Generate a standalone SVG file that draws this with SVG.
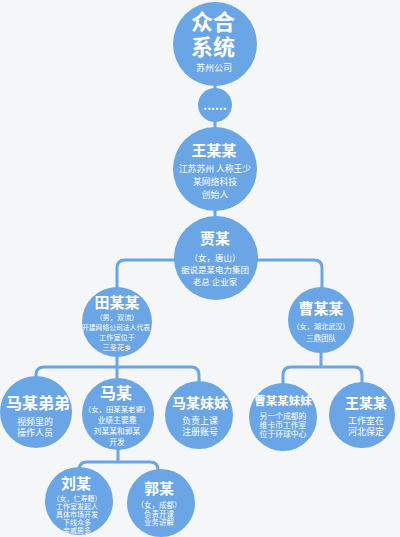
<svg xmlns="http://www.w3.org/2000/svg" width="400" height="537" viewBox="0 0 400 537">
<defs>
<style>
.bg{fill:#f4f6f8}
.c{fill:#6aa5e6}
.ln{fill:none;stroke:#6aa5e6;stroke-width:3}
text{font-family:"Noto Sans CJK SC","Noto Sans",sans-serif;fill:#ffffff;text-anchor:middle;dominant-baseline:central}
.t{font-weight:700}
</style>
</defs>
<rect class="bg" x="0" y="0" width="400" height="537"/>
<g id="connectors">
<path class="ln" d="M215,44 V258"/>
<path class="ln" d="M117,300 V268 Q117,260 125,260 H314 Q322,260 322,268 V300"/>
<path class="ln" d="M117,340 V367 M36,390 V375 Q36,367 44,367 H191 Q199,367 199,375 V390 M117,367 V390"/>
<path class="ln" d="M321,340 V367 M283,390 V375 Q283,367 291,367 H354 Q362,367 362,375 V390"/>
<path class="ln" d="M118,440 V462 M79,485 V470 Q79,462 87,462 H150 Q158,462 158,470 V485"/>
</g>
<g id="n-zhonghe">
<circle class="c" cx="215" cy="44" r="42"/>
<text class="t" x="213" y="20" font-size="22">众合</text>
<text class="t" x="213" y="45" font-size="22">系统</text>
<text x="214" y="67" font-size="9">苏州公司</text>
</g>
<g id="n-dots">
<circle class="c" cx="215" cy="105" r="17"/>
<text class="t" x="215" y="104" font-size="12">......</text>
</g>
<g id="n-wang1">
<circle class="c" cx="215" cy="169" r="42"/>
<text class="t" x="214" y="149" font-size="15">王某某</text>
<text x="215" y="168" font-size="8.8">江苏苏州 人称王少</text>
<text x="215" y="181" font-size="8.8">某网络科技</text>
<text x="215" y="194" font-size="8.8">创始人</text>
</g>
<g id="n-jia">
<circle class="c" cx="216" cy="258" r="42"/>
<text class="t" x="215" y="237" font-size="15">贾某</text>
<text x="215" y="257" font-size="8.5">（女，唐山）</text>
<text x="215" y="269" font-size="8.5">据说是某电力集团</text>
<text x="215" y="281" font-size="8.5">老总 企业家</text>
</g>
<g id="n-tian">
<circle class="c" cx="117" cy="322" r="35"/>
<text class="t" x="117" y="301" font-size="15">田某某</text>
<text x="117" y="317" font-size="7.2">（男，双流）</text>
<text x="116" y="327" font-size="6.8">开建网络公司法人代表</text>
<text x="117" y="337" font-size="7.2">工作室位于</text>
<text x="117" y="347" font-size="7.2">三圣花乡</text>
</g>
<g id="n-cao">
<circle class="c" cx="321" cy="320" r="33"/>
<text class="t" x="321" y="307" font-size="15">曹某某</text>
<text x="321" y="326" font-size="7.2">（女，湖北武汉）</text>
<text x="321" y="337" font-size="7.5">三鼎团队</text>
</g>
<g id="n-madidi">
<circle class="c" cx="36" cy="412" r="36"/>
<text class="t" x="38" y="402" font-size="16">马某弟弟</text>
<text x="35" y="421" font-size="9">视频里的</text>
<text x="35" y="432" font-size="9">操作人员</text>
</g>
<g id="n-ma">
<circle class="c" cx="118" cy="414" r="36"/>
<text class="t" x="116" y="392" font-size="16">马某</text>
<text x="117" y="408" font-size="7.4">（女，田某某老婆）</text>
<text x="117" y="419" font-size="7.8">业绩主要靠</text>
<text x="117" y="430" font-size="7.8">刘某某和郭某</text>
<text x="117" y="441" font-size="7.8">开发</text>
</g>
<g id="n-mameimei">
<circle class="c" cx="199" cy="415" r="34"/>
<text class="t" x="200" y="402" font-size="14">马某妹妹</text>
<text x="200" y="420" font-size="9">负责上课</text>
<text x="200" y="431" font-size="9">注册账号</text>
</g>
<g id="n-caomeimei">
<circle class="c" cx="283" cy="417" r="34"/>
<text class="t" x="283" y="400" font-size="11.5">曹某某妹妹</text>
<text x="283" y="415" font-size="7.8">另一个成都的</text>
<text x="283" y="424" font-size="7.8">维卡币工作室</text>
<text x="283" y="433" font-size="7.8">位于环球中心</text>
</g>
<g id="n-wang2">
<circle class="c" cx="362" cy="415" r="33"/>
<text class="t" x="366" y="402" font-size="14">王某某</text>
<text x="366" y="420" font-size="9">工作室在</text>
<text x="366" y="431" font-size="9">河北保定</text>
</g>
<g id="n-liu">
<circle class="c" cx="79" cy="501" r="34"/>
<text class="t" x="76" y="482" font-size="15">刘某</text>
<text x="77" y="498" font-size="7">（女，仁寿籍）</text>
<text x="77" y="506" font-size="7">工作室发起人</text>
<text x="77" y="514" font-size="7">具体市场开发</text>
<text x="77" y="522" font-size="7">下线众多</text>
<text x="77" y="530" font-size="7">亲戚居多</text>
</g>
<g id="n-guo">
<circle class="c" cx="161" cy="503" r="34"/>
<text class="t" x="159" y="487" font-size="15">郭某</text>
<text x="159" y="504" font-size="7.5">（女，成都）</text>
<text x="159" y="513" font-size="7.5">负责开课</text>
<text x="159" y="521" font-size="7.5">业务讲解</text>
</g>
</svg>
